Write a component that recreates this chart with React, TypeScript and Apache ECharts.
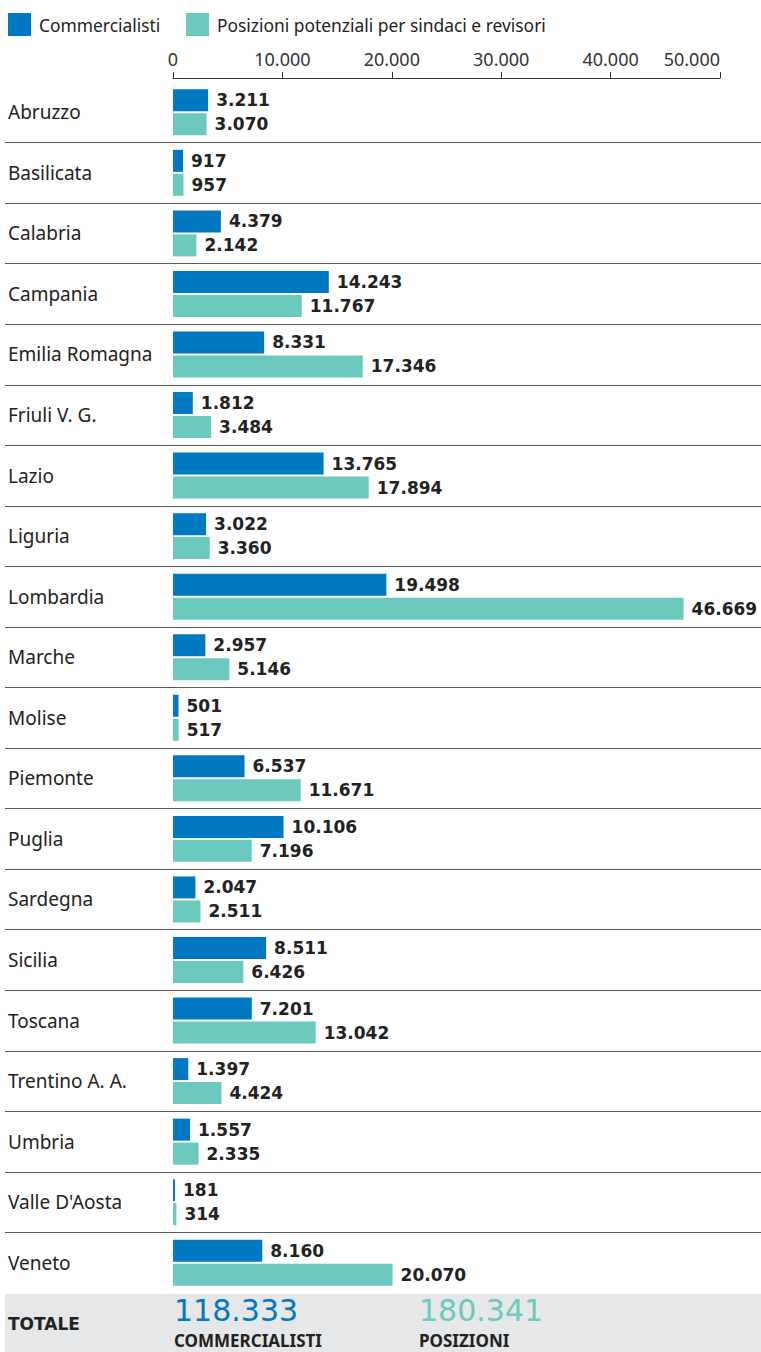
import React, { useEffect, useRef } from "react";
import * as echarts from "echarts";

const regions = [
  "Abruzzo", "Basilicata", "Calabria", "Campania", "Emilia Romagna", "Friuli V. G.",
  "Lazio", "Liguria", "Lombardia", "Marche", "Molise", "Piemonte", "Puglia",
  "Sardegna", "Sicilia", "Toscana", "Trentino A. A.", "Umbria", "Valle D'Aosta", "Veneto",
];
const commercialisti = [
  3211, 917, 4379, 14243, 8331, 1812, 13765, 3022, 19498, 2957, 501, 6537, 10106,
  2047, 8511, 7201, 1397, 1557, 181, 8160,
];
const posizioni = [
  3070, 957, 2142, 11767, 17346, 3484, 17894, 3360, 46669, 5146, 517, 11671, 7196,
  2511, 6426, 13042, 4424, 2335, 314, 20070,
];
const seriesNames = ["Commercialisti", "Posizioni potenziali per sindaci e revisori"];
const totalLabels = ["COMMERCIALISTI", "POSIZIONI"];
const totalTitle = "TOTALE";

const BLUE = "#0079C2";
const TEAL = "#6CC9BD";
const FONT = "'Noto Sans', sans-serif";
const WIDE = "'DejaVu Sans', sans-serif";

const fmt = (v: number) => String(Math.round(v)).replace(/\B(?=(\d{3})+(?!\d))/g, ".");

export default function App() {
  const ref = useRef<HTMLDivElement>(null);
  useEffect(() => {
    if (!ref.current) return;
    const chart = echarts.init(ref.current, null, { renderer: "svg" });
    const totC = commercialisti.reduce((a, b) => a + b, 0);
    const totP = posizioni.reduce((a, b) => a + b, 0);
    const labelStyle = {
      show: true,
      position: "right",
      distance: 8,
      fontFamily: WIDE,
      fontWeight: "bold",
      fontSize: 17,
      color: "#222",
      formatter: (p: any) => fmt(p.value),
    };
    const legendText = { fontFamily: FONT, fontSize: 17.4, color: "#222", padding: [0, 0, 0, 3] };
    chart.setOption({
      animation: false,
      backgroundColor: "#fff",
      legend: [
        {
          left: 8, top: 13, padding: 0, itemWidth: 23, itemHeight: 23, icon: "rect", itemGap: 0,
          data: [seriesNames[0]], textStyle: legendText, selectedMode: false,
        },
        {
          left: 186, top: 13, padding: 0, itemWidth: 23, itemHeight: 23, icon: "rect", itemGap: 0,
          data: [seriesNames[1]], textStyle: legendText, selectedMode: false,
        },
      ],
      grid: [
        { left: 173, right: 41, top: 82, bottom: 59, containLabel: false },
        { left: 5, right: 0, top: 82, bottom: 59, containLabel: false },
      ],
      xAxis: [
        {
          gridIndex: 0,
          type: "value",
          position: "top",
          offset: 4,
          min: 0,
          max: 50000,
          interval: 10000,
          axisLine: { show: true, lineStyle: { color: "#333", width: 1 } },
          axisTick: { show: true, length: 6, lineStyle: { color: "#333" } },
          axisLabel: {
            fontFamily: FONT, fontSize: 18, color: "#333", margin: 10,
            alignMaxLabel: "right",
            formatter: (v: number) => fmt(v),
          },
          splitLine: { show: false },
        },
        { gridIndex: 1, type: "value", show: false },
      ],
      yAxis: [
        {
          gridIndex: 0,
          type: "category",
          inverse: true,
          data: regions,
          axisLine: { show: false },
          axisTick: { show: false },
          axisLabel: { fontFamily: FONT, fontSize: 19, color: "#222", align: "left", margin: 165 },
        },
        {
          gridIndex: 1,
          type: "category",
          inverse: true,
          data: regions,
          axisLine: { show: false },
          axisTick: { show: false },
          axisLabel: { show: false },
          splitLine: { show: true, showMinLine: false, showMaxLine: false, lineStyle: { color: "#5a5a5a", width: 1 } },
        },
      ],
      series: [
        {
          name: seriesNames[0], type: "bar", xAxisIndex: 0, yAxisIndex: 0,
          data: commercialisti, barWidth: 22, barGap: "9%",
          itemStyle: { color: BLUE }, label: labelStyle,
        },
        {
          name: seriesNames[1], type: "bar", xAxisIndex: 0, yAxisIndex: 0,
          data: posizioni, barWidth: 22, barGap: "9%",
          itemStyle: { color: TEAL }, label: labelStyle,
        },
      ],
      graphic: [
        { type: "rect", shape: { x: 5, y: 1294, width: 756, height: 58 }, style: { fill: "#E6E7E8" }, z: -1 },
        { type: "text", x: 8, y: 1324, style: { text: totalTitle, fontFamily: WIDE, fontWeight: "bold", fontSize: 17, fill: "#222", verticalAlign: "middle" } },
        { type: "text", x: 174, y: 1310, style: { text: fmt(totC), fontFamily: WIDE, fontSize: 30, fill: BLUE, verticalAlign: "middle" } },
        { type: "text", x: 174, y: 1340, style: { text: totalLabels[0], fontFamily: FONT, fontWeight: "bold", fontSize: 17, fill: "#222", verticalAlign: "middle" } },
        { type: "text", x: 419, y: 1310, style: { text: fmt(totP), fontFamily: WIDE, fontSize: 30, fill: TEAL, verticalAlign: "middle" } },
        { type: "text", x: 419, y: 1340, style: { text: totalLabels[1], fontFamily: FONT, fontWeight: "bold", fontSize: 17, fill: "#222", verticalAlign: "middle" } },
      ],
    });
    return () => chart.dispose();
  }, []);
  return <div ref={ref} style={{ position: "fixed", left: 0, top: 0, width: 761, height: 1352 }} />;
}
